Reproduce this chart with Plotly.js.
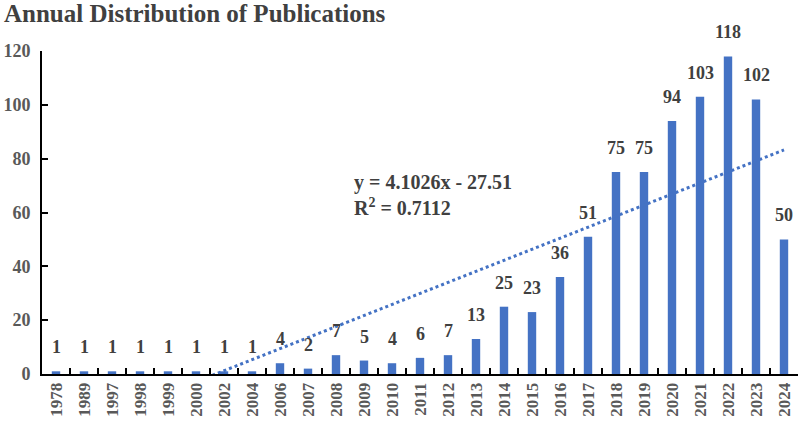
<!DOCTYPE html>
<html>
<head>
<meta charset="utf-8">
<script src="https://cdn.plot.ly/plotly-3.0.1.min.js"></script>
<style>html,body{margin:0;padding:0;background:#fff;}#chart{width:800px;height:423px;}</style>
</head>
<body>
<div id="chart"></div>
<script>
const years = ['1978','1989','1997','1998','1999','2000','2002','2004','2006','2007','2008','2009','2010','2011','2012','2013','2014','2015','2016','2017','2018','2019','2020','2021','2022','2023','2024'];
const counts = [1,1,1,1,1,1,1,1,4,2,7,5,4,6,7,13,25,23,36,51,75,75,94,103,118,102,50];
const trendSlope = 4.1026;
const trendIntercept = -27.51;
const trendText = 'y = 4.1026x - 27.51<br>R<sup>2</sup> = 0.7112';

const idx = years.map((_, i) => i + 1);
const trendX = [idx[0], idx[idx.length - 1]];
const trendY = trendX.map(x => trendSlope * x + trendIntercept);

const serif = 'Liberation Serif, Times New Roman, serif';

const traces = [
  {
    type: 'bar', x: years, y: counts,
    marker: {color: '#4472C4'},
    hoverinfo: 'x+y'
  },
  {
    type: 'scatter', mode: 'lines', x: trendX, y: trendY, xaxis: 'x2',
    line: {color: '#4472C4', width: 3, dash: 'dot'}, hoverinfo: 'skip'
  }
];

// data labels placed on the category axis by category index
const labelAnns = years.map((yr, i) => ({
  x: i, y: counts[i], xref: 'x', yref: 'y',
  text: String(counts[i]), showarrow: false,
  xanchor: 'center', yanchor: 'middle', yshift: 24,
  font: {family: serif, size: 18, color: '#404040', weight: 'bold'}
}));

const layout = {
  width: 800, height: 423,
  margin: {l: 42, r: 2, t: 51, b: 49},
  paper_bgcolor: '#fff', plot_bgcolor: '#fff',
  showlegend: false, bargap: 0.7,
  title: {text: '<b>Annual Distribution of Publications</b>', x: 0.005, xanchor: 'left',
          yref: 'container', y: 0.99, yanchor: 'top',
          font: {family: serif, size: 25, color: '#404040'}},
  xaxis: {
    type: 'category', categoryarray: years, range: [-0.5, years.length - 0.5],
    showgrid: false, zeroline: false,
    showline: true, linecolor: '#000', linewidth: 2,
    ticks: 'inside', ticklen: 6, tickcolor: '#000', tickwidth: 2, tickson: 'boundaries',
    tickangle: -90,
    tickfont: {family: serif, size: 17, color: '#595959', weight: 'bold'}
  },
  xaxis2: {overlaying: 'x', range: [0.5, years.length + 0.5], visible: false, fixedrange: true},
  yaxis: {
    range: [0, 120], dtick: 20, showgrid: false, zeroline: false,
    showline: true, linecolor: '#000', linewidth: 2,
    ticks: 'inside', ticklen: 6, tickcolor: '#000', tickwidth: 2,
    ticklabelstandoff: 6,
    tickfont: {family: serif, size: 18, color: '#595959', weight: 'bold'}
  },
  annotations: labelAnns.concat([{
    xref: 'paper', yref: 'paper', x: 0.41, y: 0.555, xanchor: 'left', yanchor: 'middle',
    text: trendText, showarrow: false, align: 'left',
    font: {family: serif, size: 20, color: '#404040', weight: 'bold'}
  }])
};

Plotly.newPlot('chart', traces, layout, {displayModeBar: false, staticPlot: true});
</script>
</body>
</html>
